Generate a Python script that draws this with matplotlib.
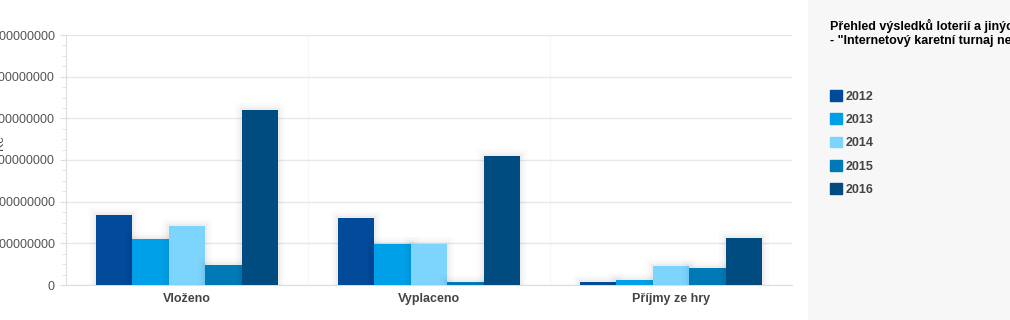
import matplotlib
matplotlib.use("Agg")
import matplotlib.pyplot as plt
import matplotlib.patheffects as pe
from matplotlib.ticker import AutoMinorLocator, MultipleLocator, FuncFormatter
import numpy as np

categories = ["Vloženo", "Vyplaceno", "Příjmy ze hry"]
years = ["2012", "2013", "2014", "2015", "2016"]
values_2012 = [168e6, 161e6, 7e6]
values_2013 = [110e6, 98e6, 12e6]
values_2014 = [142e6, 98e6, 46e6]
values_2015 = [48e6, 7e6, 41e6]
values_2016 = [420e6, 310e6, 113e6]
series = [values_2012, values_2013, values_2014, values_2015, values_2016]
colors = ["#024a9a", "#00a0e9", "#7dd5fe", "#007ab7", "#004b7f"]
title_text = "Přehled výsledků loterií a jiných podobných her\n- \"Internetový karetní turnaj nebo jiná hra\""
y_label = "Kč"

plt.rcParams['font.family'] = ['Liberation Sans', 'DejaVu Sans']

W, H = 1010, 320
fig = plt.figure(figsize=(W / 100, H / 100), dpi=100)
fig.patch.set_facecolor("white")

# right gray panel
panel = plt.Rectangle((808 / W, 0), (W - 808) / W, 1, transform=fig.transFigure,
                      facecolor="#f7f7f7", edgecolor="none", zorder=0)
fig.patches.append(panel)

ax = fig.add_axes([66 / W, 35 / H, (792 - 66) / W, (285 - 35) / H])
ax.set_facecolor("white")

n = len(series)
bw = 0.151
x = np.arange(len(categories))
shadow = [pe.Stroke(linewidth=10, foreground="#000000", alpha=0.015),
          pe.Stroke(linewidth=6, foreground="#000000", alpha=0.02),
          pe.Stroke(linewidth=3, foreground="#000000", alpha=0.03),
          pe.Normal()]
for i, (vals, c) in enumerate(zip(series, colors)):
    offs = (i - (n - 1) / 2) * bw
    bars = ax.bar(x + offs, vals, width=bw, color=c, edgecolor="none",
                  label=years[i], zorder=3)
    for b in bars:
        b.set_path_effects(shadow)

ax.set_xlim(-0.5, len(categories) - 0.5)
ax.set_ylim(0, 600e6)
ax.yaxis.set_major_locator(MultipleLocator(100e6))
ax.yaxis.set_minor_locator(AutoMinorLocator(4))
ax.yaxis.set_major_formatter(FuncFormatter(lambda v, p: f"{int(round(v))}"))
ax.grid(axis="y", color="#e8e8e8", linewidth=1, zorder=0)
for xv in [0.5, 1.5]:
    ax.axvline(xv, color="#f7f7f7", linewidth=0.8, zorder=0)

ax.set_xticks(x)
ax.set_xticklabels(categories, fontweight="bold")
for spine in ["top", "right"]:
    ax.spines[spine].set_visible(False)
ax.spines["left"].set_color("#dddddd")
ax.spines["bottom"].set_color("#dddddd")
ax.tick_params(axis="y", which="major", length=4, color="#dddddd", labelsize=9,
               labelcolor="#555555", pad=4)
ax.tick_params(axis="y", which="minor", length=3, color="#e0e0e0")
ax.tick_params(axis="x", length=0, labelsize=9, labelcolor="#444444", pad=6)
ax.set_ylabel(y_label, fontsize=9, color="#555555", labelpad=0)
ax.yaxis.set_label_coords(-66 / (792 - 66) + 6 / (792 - 66), 0.57)

fig.text(830 / W, 1 - 19 / H, title_text, fontsize=9, fontweight="bold",
         color="#000000", va="top", ha="left", linespacing=1.25)

handles = [plt.Rectangle((0, 0), 1, 1, color=c) for c in colors]
leg = fig.legend(handles, years, loc="upper left",
                 bbox_to_anchor=(830 / W, 1 - 90 / H), frameon=False,
                 prop={"size": 9, "weight": "bold"}, handlelength=0.95,
                 handleheight=0.95, handletextpad=0.3, labelspacing=0.85,
                 borderaxespad=0, borderpad=0)
for t in leg.get_texts():
    t.set_color("#444444")

fig.savefig("out.png", dpi=100)
